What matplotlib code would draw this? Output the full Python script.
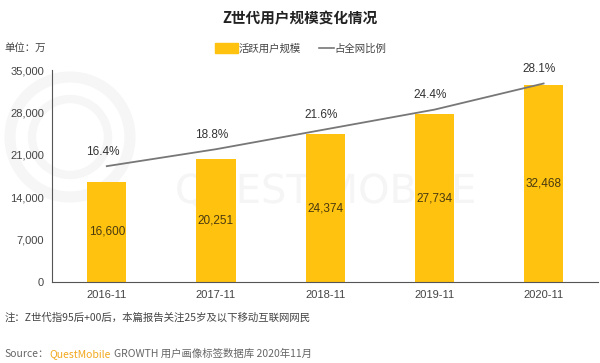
import numpy as np
import matplotlib
matplotlib.use('Agg')
from matplotlib import pyplot as plt
from matplotlib.textpath import TextPath
from matplotlib.patches import PathPatch, Circle
from matplotlib.font_manager import FontProperties
from matplotlib import transforms

plt.rcParams['font.family'] = ['Noto Sans CJK SC', 'DejaVu Sans']
numfont = ['Liberation Sans', 'Noto Sans CJK SC']

months = ['2016-11', '2017-11', '2018-11', '2019-11', '2020-11']
users = [16600, 20251, 24374, 27734, 32468]
share = [16.4, 18.8, 21.6, 24.4, 28.1]
yticks = [0, 7000, 14000, 21000, 28000, 35000]

fig = plt.figure(figsize=(6, 3.63), dpi=100)
ax = fig.add_axes([0.087, 0.223, 0.91, 0.584])
x = np.arange(len(months))

# faint watermark as a path (logo rings + word), behind the axes
wm = TextPath((0, 0), 'QUEST MOBILE', size=40, prop=FontProperties(family='DejaVu Sans'))
wm_tr = transforms.Affine2D().translate(175, 160)
fig.patches.append(PathPatch(wm, transform=wm_tr, facecolor='#f5f5f5',
                             edgecolor='none', figure=fig, zorder=-1))
for r, w in [(60, 8), (38, 6)]:
    fig.patches.append(Circle((70, 226), r, transform=transforms.IdentityTransform(),
                              facecolor='none', edgecolor='#f6f6f6', lw=w,
                              figure=fig, zorder=-1))
ax.set_facecolor('none')

ax.bar(x, users, width=0.36, color='#FFC20E', zorder=2)
for xi, v in zip(x, users):
    ax.text(xi, v / 2, '{:,}'.format(v), ha='center', va='center',
            fontsize=8.5, color='#4a3a10', zorder=3, family=numfont)

ax.set_xlim(-0.5, 4.5)
ax.set_ylim(0, 35000)
ax.set_yticks(yticks)
ax.set_yticklabels(['{:,}'.format(t) for t in yticks], family=numfont)
ax.set_xticks(x)
ax.set_xticklabels(months, family=numfont)
ax.tick_params(length=0, labelsize=8, colors='#444444', pad=6)
for s in ['top', 'right']:
    ax.spines[s].set_visible(False)
for s in ['left', 'bottom']:
    ax.spines[s].set_color('#555555')
    ax.spines[s].set_linewidth(0.8)

ax2 = ax.twinx()
ax2.set_ylim(0, 30)
ax2.axis('off')
ax2.plot(x, share, color='#777777', lw=1.3, zorder=4)
for xi, v in zip(x, share):
    ax2.text(xi - 0.04, v + 1.2, '%.1f%%' % v, ha='center', va='bottom',
             fontsize=8.5, color='#333333', family=numfont)

fig.text(0.5, 0.95, 'Z世代用户规模变化情况', ha='center', va='center',
         fontsize=10.5, fontweight='bold', color='#222222')
fig.text(0.008, 0.868, '单位：万', ha='left', va='center', fontsize=7.5, color='#444444')

# legend drawn by hand in figure coords
fig.patches.append(plt.Rectangle((0.358, 0.853), 0.038, 0.028, color='#FFC20E',
                                 transform=fig.transFigure, figure=fig))
fig.text(0.397, 0.866, '活跃用户规模', ha='left', va='center', fontsize=7.5, color='#444444')
fig.lines.append(plt.Line2D([0.532, 0.556], [0.868, 0.868], color='#777777', lw=1.2,
                            transform=fig.transFigure, figure=fig))
fig.text(0.557, 0.866, '占全网比例', ha='left', va='center', fontsize=7.5, color='#444444')

fig.text(0.008, 0.125, '注：Z世代指95后+00后，本篇报告关注25岁及以下移动互联网网民',
         ha='left', va='center', fontsize=7.5, color='#444444')
t1 = fig.text(0.008, 0.025, 'Source：', ha='left', va='center', fontsize=7.5, color='#666666')
fig.canvas.draw()
bb = t1.get_window_extent()
t2 = fig.text(bb.x1 / fig.bbox.width, 0.025, 'QuestMobile', ha='left', va='center',
              fontsize=7.5, color='#F2A81D')
bb2 = t2.get_window_extent(renderer=fig.canvas.get_renderer())
fig.text(bb2.x1 / fig.bbox.width + 0.005, 0.025, 'GROWTH 用户画像标签数据库 2020年11月',
         ha='left', va='center', fontsize=7.5, color='#666666')

fig.savefig('out.png', dpi=100)
